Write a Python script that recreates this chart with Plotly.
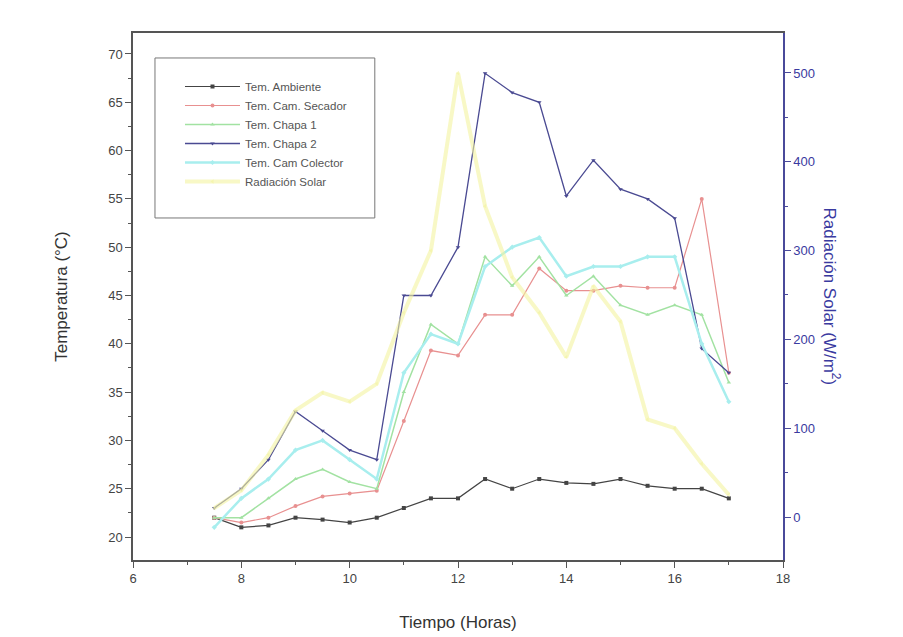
import plotly.graph_objects as go

hours = [7.5, 8, 8.5, 9, 9.5, 10, 10.5, 11, 11.5, 12, 12.5, 13, 13.5, 14, 14.5, 15, 15.5, 16, 16.5, 17]

tem_ambiente = [22, 21, 21.2, 22, 21.8, 21.5, 22, 23, 24, 24, 26, 25, 26, 25.6, 25.5, 26, 25.3, 25, 25, 24]
tem_secador = [22, 21.5, 22, 23.2, 24.2, 24.5, 24.8, 32, 39.3, 38.8, 43, 43, 47.8, 45.5, 45.5, 46, 45.8, 45.8, 55, 37]
tem_chapa1 = [22, 22, 24, 26, 27, 25.7, 25, 35, 42, 40, 49, 46, 49, 45, 47, 44, 43, 44, 43, 36]
tem_chapa2 = [23, 25, 28, 33, 31, 29, 28, 45, 45, 50, 68, 66, 65, 55.3, 59, 56, 55, 53, 39.5, 37]
tem_colector = [21, 24, 26, 29, 30, 28, 26, 37, 41, 40, 48, 50, 51, 47, 48, 48, 49, 49, 40, 34]
radiacion = [10, 30, 70, 120, 140, 130, 150, 230, 300, 500, 350, 270, 230, 180, 260, 220, 110, 100, 60, 25]

x_ticks = [6, 8, 10, 12, 14, 16, 18]
y_ticks = [20, 25, 30, 35, 40, 45, 50, 55, 60, 65, 70]
y2_ticks = [0, 100, 200, 300, 400, 500]

fig = go.Figure()

series = [
    ("Tem. Ambiente", tem_ambiente, "#444444", "square", 1.2, "y"),
    ("Tem. Cam. Secador", tem_secador, "#e89090", "circle", 1.2, "y"),
    ("Tem. Chapa 1", tem_chapa1, "#a2e2a2", "triangle-up", 1.5, "y"),
    ("Tem. Chapa 2", tem_chapa2, "#4a4a92", "triangle-down", 1.3, "y"),
    ("Tem. Cam Colector", tem_colector, "#a8eeee", "diamond", 2.5, "y"),
    ("Radiación Solar", radiacion, "rgba(244,244,160,0.6)", "triangle-left", 4, "y2"),
]

for name, vals, col, sym, w, ax in series:
    fig.add_trace(go.Scatter(
        x=hours, y=vals, name=name, mode="lines+markers", yaxis=ax,
        line=dict(color=col, width=w),
        marker=dict(color=col, symbol=sym, size=4),
    ))

font_main = "Liberation Sans, Arial, sans-serif"

fig.update_layout(
    width=903, height=637,
    margin=dict(l=125, r=128, t=25, b=85),
    paper_bgcolor="white", plot_bgcolor="white",
    font=dict(family=font_main, size=13, color="#444444"),
    showlegend=True,
    legend=dict(
        x=0.0723, y=0.926, xanchor="left", yanchor="top",
        bgcolor="rgba(0,0,0,0)", borderwidth=0,
        font=dict(size=11.5, color="#555555"),
        tracegroupgap=0, itemwidth=55,
    ),
    xaxis=dict(
        range=[6, 18], tickvals=x_ticks, ticks="outside", ticklen=6,
        showline=True, linecolor="#555555", linewidth=1.5, mirror=True,
        showgrid=False, zeroline=False,
        minor=dict(ticks="outside", dtick=1, ticklen=3, tickcolor="#555555"),
        tickcolor="#555555",
        title=dict(text="Tiempo (Horas)", font=dict(size=17, color="#333333"), standoff=31),
    ),
    yaxis=dict(
        range=[17.62, 72.17], tickvals=y_ticks, ticks="outside", ticklen=6,
        showline=True, linecolor="#555555", linewidth=1.5,
        showgrid=False, zeroline=False, tickcolor="#555555",
        minor=dict(ticks="outside", dtick=2.5, ticklen=3, tickcolor="#555555"),
        title=dict(text="Temperatura (°C)", font=dict(size=17, color="#333333"), standoff=36),
    ),
    yaxis2=dict(
        range=[-48.4, 545], tickvals=y2_ticks, overlaying="y", side="right",
        ticks="outside", ticklen=6, showline=True, linecolor="#4a4a9a", linewidth=1.5,
        tickcolor="#4a4a9a", showgrid=False, zeroline=False,
        tickfont=dict(color="#3a3aa0", size=13),
        minor=dict(ticks="outside", dtick=50, ticklen=3, tickcolor="#4a4a9a"),
    ),
    shapes=[dict(
        type="rect", xref="paper", yref="paper",
        x0=0.0338, x1=0.372, y0=0.649, y1=0.9526,
        line=dict(color="#777777", width=1), fillcolor="rgba(0,0,0,0)", layer="above",
    )],
)

fig.add_annotation(
    text="Radiación Solar (W/m<sup>2</sup>)", textangle=90,
    xref="paper", yref="paper", x=1.0, y=0.5, xshift=62,
    showarrow=False, font=dict(size=17, color="#3a3aa0", family=font_main),
)

fig.write_html("out.html")
